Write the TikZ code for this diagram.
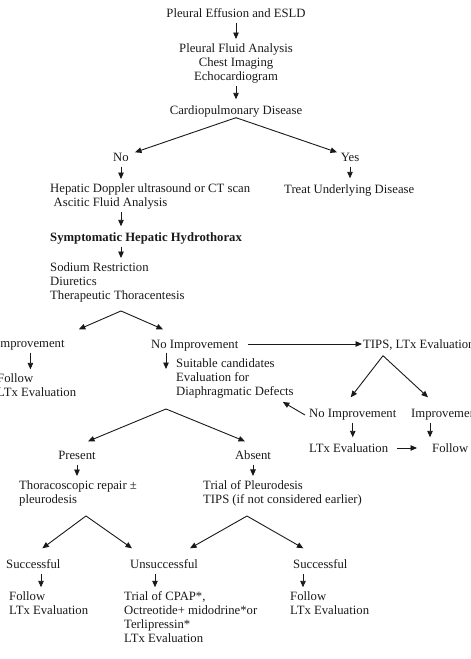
\documentclass[tikz,border=0pt]{standalone}
\usepackage{fontspec}
\setmainfont{Liberation Serif}
\definecolor{chartInk}{RGB}{25,25,25}
\usetikzlibrary{arrows.meta,positioning,calc}

\begin{document}
\begin{tikzpicture}[x=1pt, y=-1pt,
  lbl/.style={inner sep=1pt, text=chartInk, font=\fontsize{12.7}{14}\selectfont},
  txt/.style={lbl, text height=10.5pt, text depth=2.5pt},
  blk/.style={lbl, align=left},
  arr/.style={-{Triangle[length=6.5pt,width=5.5pt]}, line width=0.9pt, draw=chartInk},
  down/.style={arr, shorten <=2pt, shorten >=3pt}
]
  \useasboundingbox (0,0) rectangle (471,659);

  \node[txt]                 (top)    at (236,13)  {Pleural Effusion and ESLD};
  \node[blk, align=center]   (pfa)    at (236,63)  {Pleural Fluid Analysis\\Chest Imaging\\Echocardiogram};
  \node[txt]                 (cpd)    at (236,110) {Cardiopulmonary Disease};
  \node[txt]                 (no)     at (121,157) {No};
  \node[txt]                 (yes)    at (350,157) {Yes};
  \node[blk, anchor=west]    (hep)    at (49,196)  {Hepatic Doppler ultrasound or CT scan\\\hspace*{3.5pt}Ascitic Fluid Analysis};
  \node[txt, anchor=west]    (treat)  at (283,189) {Treat Underlying Disease};
  \node[txt, anchor=west]    (sym)    at (49,237)  {\bfseries Symptomatic Hepatic Hydrothorax};
  \node[blk, anchor=west]    (sod)    at (49,282)  {Sodium Restriction\\Diuretics\\Therapeutic Thoracentesis};
  \node[txt, anchor=west]    (imp)    at (-5,343)  {Improvement};
  \node[blk, anchor=west]    (fol1)   at (-4,385)  {Follow\\LTx Evaluation};
  \node[txt, anchor=west]    (noimp)  at (150,344) {No Improvement};
  \node[txt, anchor=west]    (tips)   at (362,344) {TIPS, LTx Evaluation};
  \node[blk, anchor=west]    (suit)   at (175,378) {Suitable candidates\\Evaluation for\\Diaphragmatic Defects};
  \node[txt, anchor=west]    (noimp2) at (308,413) {No Improvement};
  \node[txt, anchor=west]    (imp2)   at (410,413) {Improvement};
  \node[txt, anchor=west]    (ltx)    at (308,448) {LTx Evaluation};
  \node[txt, anchor=west]    (fol2)   at (431,448) {Follow};
  \node[txt]                 (pres)   at (77,455)  {Present};
  \node[txt]                 (abs)    at (253,455) {Absent};
  \node[blk, anchor=west]    (thor)   at (18,493)  {Thoracoscopic repair ±\\pleurodesis};
  \node[blk, anchor=west]    (trial)  at (202,493) {Trial of Pleurodesis\\TIPS (if not considered earlier)};
  \node[txt, anchor=west]    (succ1)  at (5,564)   {Successful};
  \node[txt, anchor=west]    (unsucc) at (129,564) {Unsuccessful};
  \node[txt, anchor=west]    (succ2)  at (292,564) {Successful};
  \node[blk, anchor=west]    (fol3)   at (8,603)   {Follow\\LTx Evaluation};
  \node[blk, anchor=west]    (cpap)   at (123,617) {Trial of CPAP*,\\Octreotide+ midodrine*or\\Terlipressin*\\LTx Evaluation};
  \node[blk, anchor=west]    (fol4)   at (289,603) {Follow\\LTx Evaluation};

  \coordinate (sodfork)   at ([yshift=-8pt]no |- sod.south);
  \coordinate (tipsfork)  at ([xshift=21pt,yshift=-4pt]tips.south west);
  \coordinate (suitfork)  at ([xshift=-9pt,yshift=-10pt]suit.south west);
  \coordinate (thorfork)  at ([xshift=68pt,yshift=-9pt]thor.south west);
  \coordinate (trialfork) at ([xshift=45pt,yshift=-9pt]trial.south west);

  \draw[down] (top) -- (pfa);
  \draw[down] (pfa) -- (cpd);
  \draw[arr] (cpd.south) -- ([xshift=14pt,yshift=-3pt]no.north);
  \draw[arr] (cpd.south) -- ([xshift=-13pt,yshift=-3pt]yes.north);
  \draw[down] (no) -- (no |- hep.north);
  \draw[down] (no |- hep.south) -- (no |- sym.north);
  \draw[down] (no |- sym.south) -- (no |- sod.north);
  \draw[down] (yes) -- (yes |- treat.north);

  \draw[arr] (sodfork) -- ([xshift=13pt,yshift=6pt]imp.north east);
  \draw[arr] (sodfork) -- ([xshift=13pt,yshift=7pt]noimp.north west);
  \draw[down] (imp) -- (imp |- fol1.north);
  \draw[arr] ([xshift=8pt]noimp.east) -- (tips.west);
  \draw[arr] ([xshift=16pt,yshift=-1pt]noimp.south west) -- ([xshift=-9pt,yshift=-12pt]suit.north west);

  \draw[arr] (tipsfork) -- ([xshift=-2pt,yshift=8pt]noimp2.north);
  \draw[arr] (tipsfork) -- ([xshift=18pt,yshift=8pt]imp2.north west);
  \draw[arr] ([xshift=-3pt,yshift=-2pt]noimp2.west) -- ([xshift=-12pt,yshift=-3pt]suit.south east);
  \draw[down] (noimp2) -- (noimp2 |- ltx.north);
  \draw[down] ([xshift=20pt]imp2.south west) -- ([xshift=20pt]imp2.south west |- fol2.north);
  \draw[arr] ([xshift=8pt]ltx.east) -- ([xshift=-14pt]fol2.west);

  \draw[arr] (suitfork) -- ([xshift=11pt,yshift=6pt]pres.north);
  \draw[arr] (suitfork) -- ([xshift=-8pt,yshift=6pt]abs.north);
  \draw[down] (pres) -- (pres |- thor.north);
  \draw[down] (abs) -- (abs |- trial.north);

  \draw[arr] (thorfork) -- ([xshift=9pt,yshift=8pt]succ1.north);
  \draw[arr] (thorfork) -- ([xshift=3pt,yshift=8pt]unsucc.north west);
  \draw[arr] (trialfork) -- ([xshift=26pt,yshift=8pt]unsucc.north);
  \draw[arr] (trialfork) -- ([xshift=-17pt,yshift=8pt]succ2.north);
  \draw[down] ([xshift=36pt]succ1.south west) -- ([xshift=36pt]succ1.south west |- fol3.north);
  \draw[down] ([xshift=26pt]unsucc.south west) -- ([xshift=26pt]unsucc.south west |- cpap.north);
  \draw[down] ([xshift=11pt]succ2.south west) -- ([xshift=11pt]succ2.south west |- fol4.north);
\end{tikzpicture}
\end{document}
